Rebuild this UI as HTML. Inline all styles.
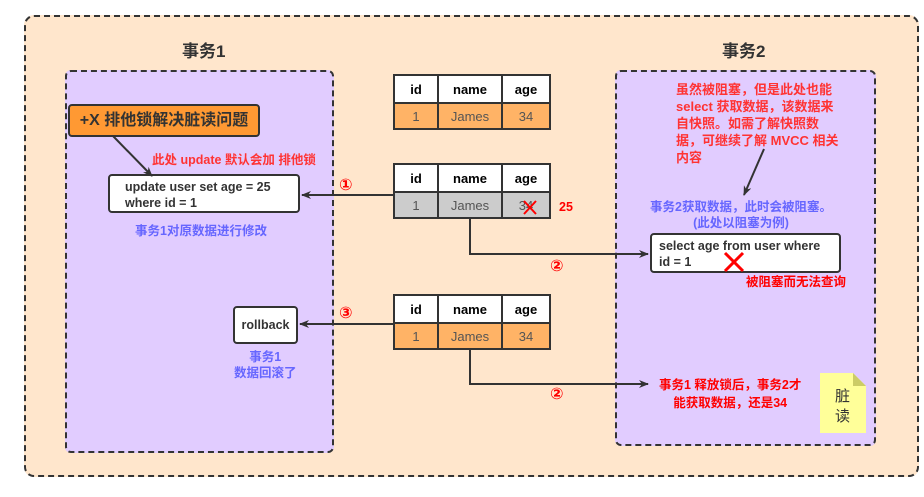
<!DOCTYPE html>
<html><head><meta charset="utf-8"><style>
body{margin:0;width:924px;height:497px;background:#fff;position:relative;overflow:hidden;font-family:"Liberation Sans","Noto Sans CJK SC",sans-serif;}
.a{position:absolute;box-sizing:border-box;}
.t{position:absolute;white-space:nowrap;font-weight:bold;}
table{position:absolute;border-collapse:collapse;font-size:13px;}
td{border:2px solid #333;text-align:center;height:24px;padding:0;}
th{border:2px solid #333;background:#fff;height:24px;font-size:13px;}
</style></head><body>
<div class="a" style="left:24px;top:15px;width:895px;height:462px;background:#ffe6cc;border:2px dashed #333;border-radius:10px"></div>
<div class="t" style="left:182px;top:37px;font-size:17px;color:#333">事务1</div>
<div class="t" style="left:722px;top:37px;font-size:17px;color:#333">事务2</div>
<div class="a" style="left:65px;top:70px;width:269px;height:383px;background:#e1ccff;border:2px dashed #333;border-radius:6px"></div>
<div class="a" style="left:615px;top:70px;width:261px;height:376px;background:#e1ccff;border:2px dashed #333;border-radius:6px"></div>

<table style="left:393px;top:74px"><tr><th style="width:40px">id</th><th style="width:60px">name</th><th style="width:44px">age</th></tr>
<tr><td style="background:#ffb366;color:#555">1</td><td style="background:#ffb366;color:#555">James</td><td style="background:#ffb366;color:#555">34</td></tr></table>
<table style="left:393px;top:163px"><tr><th style="width:40px">id</th><th style="width:60px">name</th><th style="width:44px">age</th></tr>
<tr><td style="background:#ccc;color:#555">1</td><td style="background:#ccc;color:#555">James</td><td style="background:#ccc;color:#555">34</td></tr></table>
<table style="left:393px;top:294px"><tr><th style="width:40px">id</th><th style="width:60px">name</th><th style="width:44px">age</th></tr>
<tr><td style="background:#ffb366;color:#555">1</td><td style="background:#ffb366;color:#555">James</td><td style="background:#ffb366;color:#555">34</td></tr></table>

<div class="a" style="left:68px;top:104px;width:192px;height:33px;background:#ff9933;border:2px solid #333;border-radius:4px;font-weight:bold;font-size:16px;color:#333;line-height:29px;text-align:center">+X 排他锁解决脏读问题</div>
<div class="t" style="left:152px;top:149px;font-size:12.5px;color:#ff3333">此处 update 默认会加 排他锁</div>
<div class="a" style="left:108px;top:174px;width:192px;height:39px;background:#fff;border:2px solid #333;border-radius:4px;font-weight:bold;font-size:12.5px;color:#333;padding:3px 0 0 15px;line-height:16px">update user set age = 25<br>where id = 1</div>
<div class="t" style="left:135px;top:220px;font-size:12.5px;color:#6666ff">事务1对原数据进行修改</div>
<div class="a" style="left:233px;top:306px;width:65px;height:38px;background:#fff;border:2px solid #333;border-radius:4px;font-weight:bold;font-size:12.5px;color:#333;line-height:34px;text-align:center">rollback</div>
<div class="t" style="left:234px;top:349px;font-size:12.5px;color:#6666ff;text-align:center;line-height:16px">事务1<br>数据回滚了</div>

<div class="t" style="left:676px;top:81px;font-size:13px;color:#ff3333;line-height:17px;white-space:normal;width:164px">虽然被阻塞，但是此处也能 select 获取数据，该数据来自快照。如需了解快照数据，可继续了解 MVCC 相关内容</div>
<div class="t" style="left:650px;top:199px;font-size:12.5px;color:#6666ff;text-align:center;line-height:16px">事务2获取数据，此时会被阻塞。<br>(此处以阻塞为例)</div>
<div class="a" style="left:650px;top:233px;width:191px;height:40px;background:#fff;border:2px solid #333;border-radius:4px;font-weight:bold;font-size:12.5px;color:#333;padding:3px 0 0 7px;line-height:16px">select age from user where<br>id = 1</div>
<div class="t" style="left:746px;top:271px;font-size:12.5px;color:#ff0000">被阻塞而无法查询</div>
<div class="t" style="left:659px;top:376px;font-size:12.5px;color:#ff0000;text-align:center;line-height:18px">事务1 释放锁后，事务2才<br>能获取数据，还是34</div>
<div class="t" style="left:559px;top:200px;font-size:12.5px;color:#ff0000">25</div>

<svg class="a" style="left:0;top:0" width="924" height="497">
<defs><marker id="m" markerWidth="10" markerHeight="8" refX="9" refY="4" orient="auto" markerUnits="userSpaceOnUse"><path d="M0,0L10,4L0,8L3,4z" fill="#333"/></marker></defs>
<g stroke="#333" stroke-width="2" fill="none">
<line x1="393" y1="195" x2="302" y2="195" marker-end="url(#m)"/>
<polyline points="470,219 470,254 648,254" marker-end="url(#m)"/>
<line x1="393" y1="324" x2="300" y2="324" marker-end="url(#m)"/>
<polyline points="470,350 470,384 648,384" marker-end="url(#m)"/>
<line x1="113" y1="136" x2="152" y2="176" marker-end="url(#m)"/>
<line x1="764" y1="149" x2="744" y2="195" marker-end="url(#m)"/>
</g>
<path d="M524,201L536,214M536,201L524,214" stroke="#ff0000" stroke-width="2"/>
<path d="M725,253L743,271M743,253L725,271" stroke="#ff0000" stroke-width="3"/>
<path d="M820,373H853L866,386V433H820Z" fill="#ffff99"/>
<path d="M853,373L866,386H853Z" fill="#cccc66"/>
<g fill="#ff0000" font-family="DejaVu Sans,sans-serif" font-size="16" font-weight="bold">
<text x="339" y="190">①</text><text x="550" y="271">②</text><text x="339" y="318">③</text><text x="550" y="399">②</text>
</g>
<text x="835" y="401" font-size="15" fill="#333" font-family="Noto Sans CJK SC,sans-serif">脏</text>
<text x="835" y="421" font-size="15" fill="#333" font-family="Noto Sans CJK SC,sans-serif">读</text>
</svg>
</body></html>
